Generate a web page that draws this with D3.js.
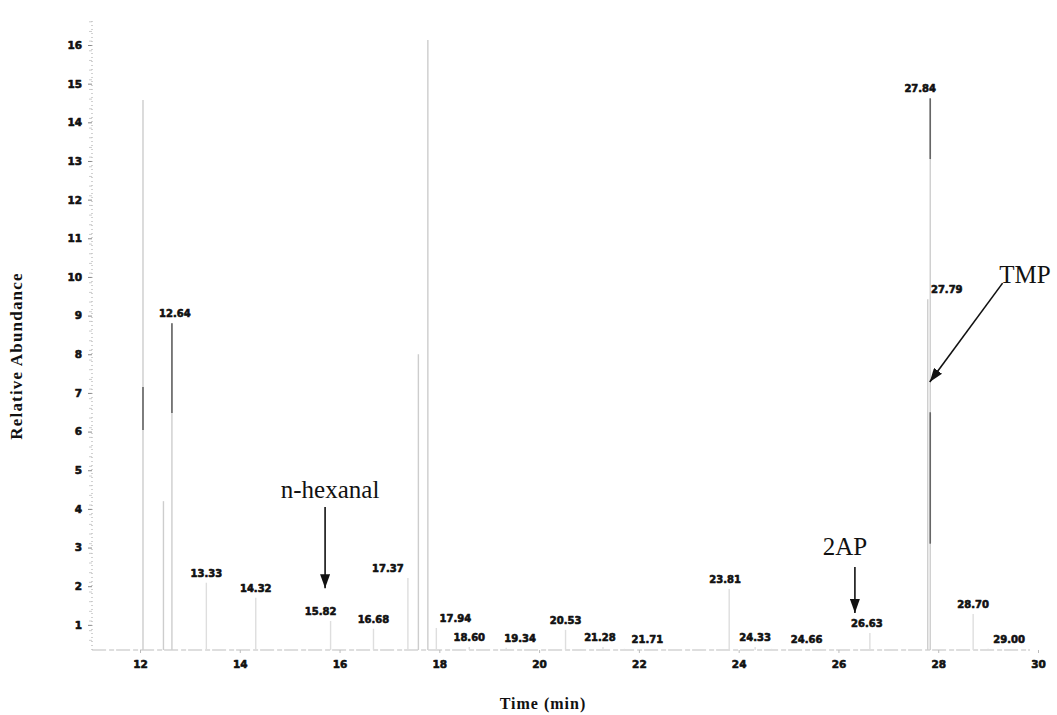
<!DOCTYPE html>
<html>
<head>
<meta charset="utf-8">
<script src="https://cdn.jsdelivr.net/npm/d3@7"></script>
<style>
  html, body { margin: 0; padding: 0; background: #fff; }
  svg { display: block; }
</style>
</head>
<body>
<svg id="chart" width="1057" height="715"></svg>
<script>
// Retention time (min) and apex height of each peak in the chromatogram
const peakTimes   = [12.06, 12.47, 12.64, 13.33, 14.32, 15.82, 16.68, 17.37, 17.58, 17.77, 17.94, 18.60, 19.34, 20.53, 21.28, 21.71, 23.81, 24.33, 24.66, 26.63, 27.79, 27.84, 28.70, 29.00];
const peakHeights = [14.58, 4.20, 8.80, 2.09, 1.70, 1.10, 0.90, 2.21, 8.00, 16.13, 0.92, 0.43, 0.41, 0.87, 0.43, 0.38, 1.93, 0.43, 0.38, 0.79, 9.42, 14.62, 1.28, 0.38];
const peakLabels  = ["", "", "12.64", "13.33", "14.32", "15.82", "16.68", "17.37", "", "", "17.94", "18.60", "19.34", "20.53", "21.28", "21.71", "23.81", "24.33", "24.66", "26.63", "27.79", "27.84", "28.70", "29.00"];

// Stretches of a peak trace that print darker
const denseTimes = [12.06, 12.64, 27.84, 27.84];
const denseFrom  = [6.04, 6.48, 13.05, 3.10];
const denseTo    = [7.15, 8.80, 14.62, 6.50];

// Axis ticks
const yTicks = [1, 2, 3, 4, 5, 6, 7, 8, 9, 10, 11, 12, 13, 14, 15, 16];
const xTicks = [12, 14, 16, 18, 20, 22, 24, 26, 28, 30];

// Compound call-outs: label, text anchor (time, abundance), arrow tail and tip
const calloutNames = ["n-hexanal", "2AP", "TMP"];
const calloutText  = [[15.81, 4.28], [26.13, 2.81], [29.74, 9.85]];
const calloutTail  = [[15.71, 4.05], [26.33, 2.50], [29.29, 9.84]];
const calloutTip   = [[15.71, 1.95], [26.33, 1.31], [27.83, 7.28]];

// ---- layout ----
const baseValue = 0.35;              // level of the recorded baseline
const x = d3.scaleLinear().domain([12, 30]).range([140, 1038]);
const y = d3.scaleLinear().domain([baseValue, 16]).range([650, 45]);

// horizontal nudges (px) that keep neighbouring peak labels apart
const labelNudge = {
  "12.64": 3, "15.82": -10, "17.37": -20, "17.94": 19, "19.34": 14,
  "21.28": -3, "21.71": 23, "23.81": -4, "24.66": 35, "26.63": -3,
  "27.84": -10, "27.79": 19, "29.00": 21
};

const svg = d3.select("#chart");
const g = svg.append("g");

const peaks = peakTimes.map((t, i) => ({ t, h: peakHeights[i], label: peakLabels[i] }));

// heavy, slightly smeared print face for the instrument's numbers
function printFace(sel, size) {
  sel.attr("font-family", "'DejaVu Sans', sans-serif")
    .attr("font-weight", "bold")
    .attr("font-size", size)
    .attr("fill", "#111")
    .attr("stroke", "#111")
    .attr("stroke-width", 0.6)
    .attr("stroke-linejoin", "round");
}

// ---- y axis ----
const yAxis = d3.axisLeft(y).tickValues(yTicks).tickSize(4).tickSizeOuter(0).tickPadding(6);
const yG = g.append("g").attr("transform", "translate(92,0)").call(yAxis);
yG.select(".domain").remove();
yG.selectAll(".tick line").attr("stroke", "#888").attr("stroke-width", 1);
yG.selectAll(".tick text").call(printFace, 10.5);

// dotted axis rule with fine minor ticks
g.append("line")
  .attr("x1", 92).attr("x2", 92)
  .attr("y1", y(baseValue)).attr("y2", y(16.65))
  .attr("stroke", "#a5a5a5").attr("stroke-width", 1)
  .attr("stroke-dasharray", "1,3");
const minor = d3.range(1, 66).map(i => baseValue + i * 0.25).filter(v => v <= 16.6);
g.append("g").selectAll("line").data(minor).join("line")
  .attr("x1", 89).attr("x2", 92)
  .attr("y1", d => y(d)).attr("y2", d => y(d))
  .attr("stroke", "#c0c0c0").attr("stroke-width", 0.8);

// ---- x axis ----
const xAxis = d3.axisBottom(x).tickValues(xTicks).tickSize(3).tickSizeOuter(0).tickPadding(8);
const xG = g.append("g").attr("transform", `translate(0,${y(baseValue)})`).call(xAxis);
xG.select(".domain").remove();
xG.selectAll(".tick line").attr("stroke", "#bbb");
xG.selectAll(".tick text").call(printFace, 10.5);

// baseline of the trace
g.append("line")
  .attr("x1", x(11.04)).attr("x2", x(29.84))
  .attr("y1", y(baseValue)).attr("y2", y(baseValue))
  .attr("stroke", "#bdbdbd").attr("stroke-width", 1.2)
  .attr("stroke-dasharray", "14,3,5,2");

// ---- peaks ----
g.append("g").selectAll("line").data(peaks).join("line")
  .attr("x1", d => x(d.t)).attr("x2", d => x(d.t))
  .attr("y1", y(baseValue)).attr("y2", d => y(d.h))
  .attr("stroke", d => d.h > 4 ? "#cdcdcd" : "#dedede")
  .attr("stroke-width", 1.4);

const dense = denseTimes.map((t, i) => ({ t, a: denseFrom[i], b: denseTo[i] }));
g.append("g").selectAll("line").data(dense).join("line")
  .attr("x1", d => x(d.t)).attr("x2", d => x(d.t))
  .attr("y1", d => y(d.a)).attr("y2", d => y(d.b))
  .attr("stroke", "#666").attr("stroke-width", 1.6);

// peak retention-time labels
g.append("g").selectAll("text").data(peaks.filter(d => d.label)).join("text")
  .attr("x", d => x(d.t) + (labelNudge[d.label] || 0))
  .attr("y", d => y(d.h) - 6)
  .attr("text-anchor", "middle")
  .call(printFace, 10)
  .text(d => d.label);

// ---- call-outs ----
const defs = svg.append("defs");
defs.append("marker")
  .attr("id", "head")
  .attr("viewBox", "0 0 14 10")
  .attr("refX", 14).attr("refY", 5)
  .attr("markerWidth", 14).attr("markerHeight", 10)
  .attr("markerUnits", "userSpaceOnUse")
  .attr("orient", "auto")
  .append("path").attr("d", "M0,0 L14,5 L0,10 Z").attr("fill", "#111");

const callouts = calloutNames.map((name, i) => ({
  name, text: calloutText[i], tail: calloutTail[i], tip: calloutTip[i]
}));

g.append("g").selectAll("line").data(callouts).join("line")
  .attr("x1", d => x(d.tail[0])).attr("y1", d => y(d.tail[1]))
  .attr("x2", d => x(d.tip[0])).attr("y2", d => y(d.tip[1]))
  .attr("stroke", "#111").attr("stroke-width", 1.6)
  .attr("marker-end", "url(#head)");

g.append("g").selectAll("text").data(callouts).join("text")
  .attr("x", d => x(d.text[0])).attr("y", d => y(d.text[1]))
  .attr("text-anchor", "middle")
  .attr("font-family", "'Liberation Serif', 'Times New Roman', serif")
  .attr("font-size", 25)
  .attr("fill", "#111")
  .text(d => d.name);

// ---- axis titles ----
svg.append("text")
  .attr("transform", "translate(22,356) rotate(-90)")
  .attr("text-anchor", "middle")
  .attr("font-family", "'Liberation Serif', 'Times New Roman', serif")
  .attr("font-weight", "bold")
  .attr("font-size", 17)
  .attr("letter-spacing", 1.2)
  .attr("fill", "#111")
  .text("Relative Abundance");

svg.append("text")
  .attr("x", 543).attr("y", 709)
  .attr("text-anchor", "middle")
  .attr("font-family", "'Liberation Serif', 'Times New Roman', serif")
  .attr("font-weight", "bold")
  .attr("font-size", 16)
  .attr("letter-spacing", 1)
  .attr("fill", "#111")
  .text("Time (min)");
</script>
</body>
</html>
